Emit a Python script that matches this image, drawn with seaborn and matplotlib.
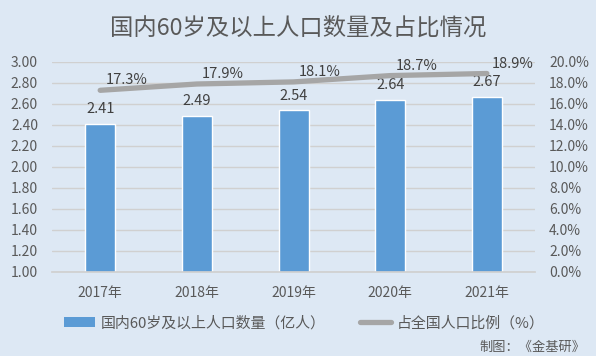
import matplotlib
matplotlib.use('Agg')
import matplotlib.pyplot as plt
from matplotlib.ticker import PercentFormatter, FormatStrFormatter
from matplotlib.patches import Patch
from matplotlib.lines import Line2D
import numpy as np
import pandas as pd
import seaborn as sns

# data
years = ['2017年', '2018年', '2019年', '2020年', '2021年']
population = [2.41, 2.49, 2.54, 2.64, 2.67]      # 亿人
share = [17.3, 17.9, 18.1, 18.7, 18.9]           # %
bar_label = '国内60岁及以上人口数量（亿人）'
line_label = '占全国人口比例（%）'

bg = '#dde8f4'
text_c = '#595959'

sns.set_theme(style='white')
plt.rcParams['font.family'] = ['Noto Sans CJK SC', 'DejaVu Sans']

df = pd.DataFrame({'year': years, 'pop': population, 'share': share})

fig = plt.figure(figsize=(5.96, 3.56), dpi=100, facecolor=bg)
ax = fig.add_axes([0.087, 0.236, 0.811, 0.590], facecolor=bg)

# gridlines
ax.set_ylim(1.0, 3.0)
ax.set_yticks(np.arange(1.0, 3.01, 0.2))
ax.grid(axis='y', color='#d0d0d0', linewidth=1)
ax.set_axisbelow(True)

sns.barplot(data=df, x='year', y='pop', color='#5b9bd5', width=0.31,
            saturation=1, ax=ax, zorder=2)
for i, v in enumerate(population):
    ax.text(i, v + 0.14, f'{v:.2f}', ha='center', va='center',
            fontsize=10.5, color='#404040')

ax2 = ax.twinx()
ax2.set_ylim(0, 20)
ax2.set_yticks(np.arange(0, 20.1, 2))
sns.lineplot(x=np.arange(len(years)), y=share, color='#a6a6a6',
             linewidth=3.8, ax=ax2, zorder=3)
for i, v in enumerate(share):
    ax2.text(i + 0.27, v + 0.95, f'{v:.1f}%', ha='center', va='center',
             fontsize=10.5, color='#404040')

ax.set_xlim(-0.5, len(years) - 0.5)
ax.set_xlabel('')
ax.set_ylabel('')
ax2.set_ylabel('')
ax.yaxis.set_major_formatter(FormatStrFormatter('%.2f'))
ax2.yaxis.set_major_formatter(PercentFormatter(decimals=1))

for a in (ax, ax2):
    for s in a.spines.values():
        s.set_visible(False)
    a.tick_params(length=0, labelsize=10, colors=text_c)
ax.tick_params(axis='x', pad=10)
ax.tick_params(axis='y', pad=10)
ax2.tick_params(axis='y', pad=10)
ax.spines['bottom'].set_visible(True)
ax.spines['bottom'].set_color('#d0d0d0')

fig.text(0.5, 0.921, '国内60岁及以上人口数量及占比情况', ha='center', va='center',
         fontsize=16.8, color=text_c)

handles = [Patch(facecolor='#5b9bd5', edgecolor='none', label=bar_label),
           Line2D([0], [0], color='#a6a6a6', linewidth=3.8, label=line_label)]
fig.legend(handles=handles, loc='center', bbox_to_anchor=(0.51, 0.093), ncol=2,
           frameon=False, fontsize=10.75, labelcolor=text_c, handlelength=2.1,
           handletextpad=0.35, columnspacing=2.3)

fig.text(0.982, 0.025, '制图：《金基研》', ha='right', va='center', fontsize=9.5,
         color=text_c)

fig.savefig('out.png', dpi=100, facecolor=bg)
